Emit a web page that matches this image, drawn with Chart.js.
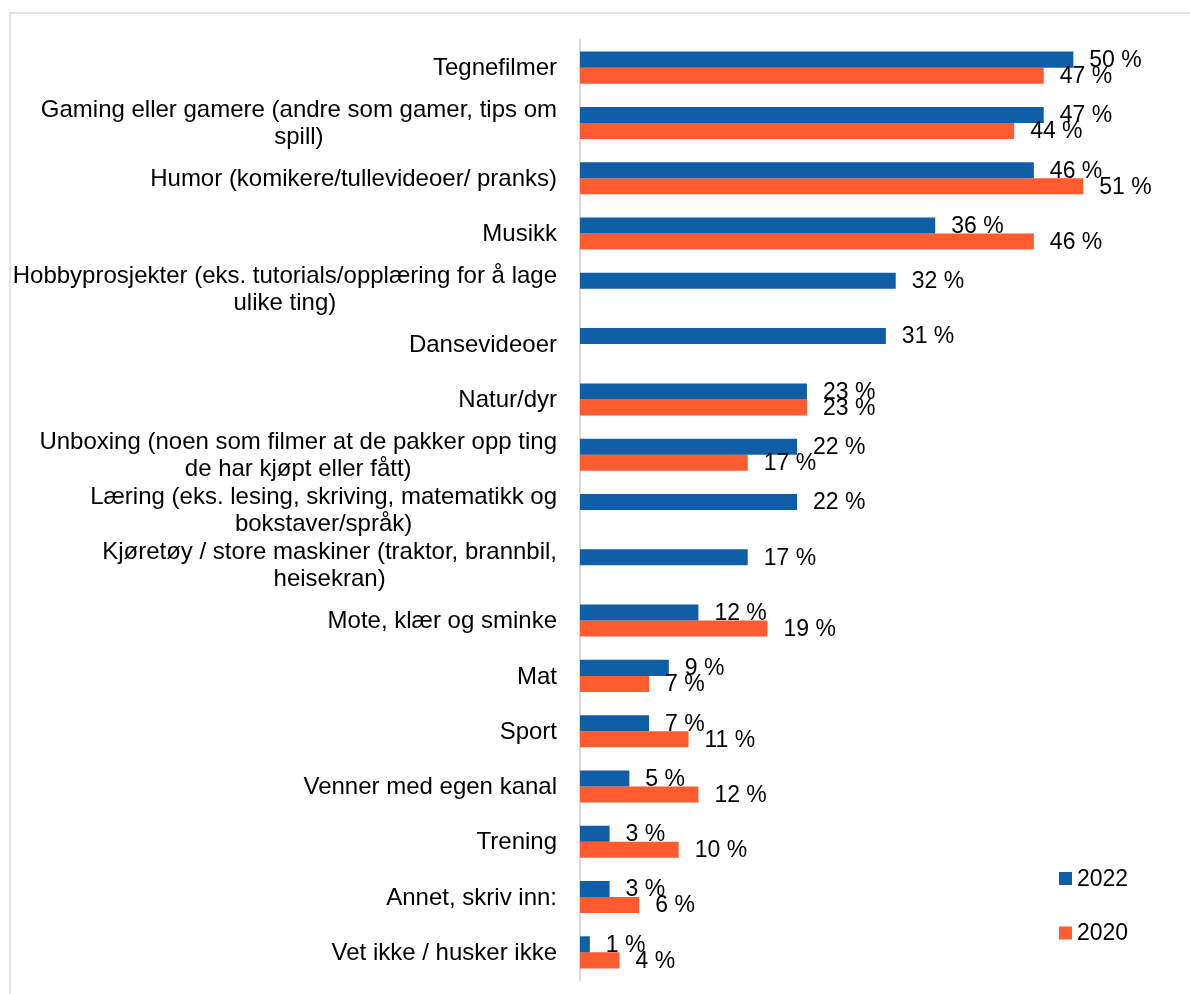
<!DOCTYPE html>
<html>
<head>
<meta charset="utf-8">
<script src="https://cdn.jsdelivr.net/npm/chart.js@4.4.1/dist/chart.umd.min.js"></script>
<style>
  body { margin: 0; overflow: hidden; background: #fff; }
  #wrap { position: relative; width: 1190px; height: 994px; }
  #frame {
    position: absolute; left: 9px; top: 12px; width: 1200px; height: 1000px;
    border: 2px solid #e2e2e2; box-sizing: border-box;
  }
</style>
</head>
<body>
<div id="wrap">
  <div id="frame"></div>
  <canvas id="myChart"></canvas>
</div>
<script>
  const categories = [
    "Tegnefilmer",
    ["Gaming eller gamere (andre som gamer, tips om", "spill)"],
    "Humor (komikere/tullevideoer/ pranks)",
    "Musikk",
    ["Hobbyprosjekter (eks. tutorials/opplæring for å lage", "ulike ting)"],
    "Dansevideoer",
    "Natur/dyr",
    ["Unboxing (noen som filmer at de pakker opp ting", "de har kjøpt eller fått)"],
    ["Læring (eks. lesing, skriving, matematikk og", "bokstaver/språk)"],
    ["Kjøretøy / store maskiner (traktor, brannbil,", "heisekran)"],
    "Mote, klær og sminke",
    "Mat",
    "Sport",
    "Venner med egen kanal",
    "Trening",
    "Annet, skriv inn:",
    "Vet ikke / husker ikke",
  ];

  const values2022 = [50, 47, 46, 36, 32, 31, 23, 22, 22, 17, 12, 9, 7, 5, 3, 3, 1];
  const values2020 = [47, 44, 51, 46, null, null, 23, 17, null, null, 19, 7, 11, 12, 10, 6, 4];

  const LABEL_FONT = "24px 'Liberation Sans', Arial, sans-serif";
  const VALUE_FONT = "23px 'Liberation Sans', Arial, sans-serif";

  const drawText = {
    id: "drawText",
    afterDraw(chart) {
      const c = chart.ctx;
      const y = chart.scales.y;
      c.save();
      c.fillStyle = "#000";
      c.textBaseline = "middle";

      // category labels: block right-aligned, lines centred
      c.font = LABEL_FONT;
      c.textAlign = "center";
      categories.forEach((lab, i) => {
        const lines = Array.isArray(lab) ? lab : [lab];
        const w = Math.max(...lines.map((l) => c.measureText(l).width));
        const cx = y.right - 23 - w / 2;
        const cy = y.getPixelForValue(i);
        lines.forEach((l, k) => {
          c.fillText(l, cx, cy + (k - (lines.length - 1) / 2) * 27 + 1);
        });
      });

      // value labels
      c.font = VALUE_FONT;
      c.textAlign = "left";
      chart.data.datasets.forEach((ds, d) => {
        chart.getDatasetMeta(d).data.forEach((bar, i) => {
          const v = ds.data[i];
          if (v === null) return;
          c.fillText(v + " %", bar.x + 16, bar.y + 1);
        });
      });

      // legend
      chart.data.datasets.forEach((ds, d) => {
        const ly = 878.5 + d * 54.5;
        c.fillStyle = ds.backgroundColor;
        c.fillRect(1059, ly - 6.5, 13, 13);
        c.fillStyle = "#000";
        c.fillText(ds.label, 1077, ly + 1);
      });
      c.restore();
    },
  };

  const ctx = document.getElementById("myChart");

  const chart = new Chart(ctx, {
    type: "bar",
    data: {
      labels: categories,
      datasets: [
        {
          label: "2022",
          data: values2022,
          backgroundColor: "#0F5EA6",
          borderWidth: 0,
          barPercentage: 1,
          categoryPercentage: 0.58,
        },
        {
          label: "2020",
          data: values2020,
          backgroundColor: "#FF5B31",
          borderWidth: 0,
          barPercentage: 1,
          categoryPercentage: 0.58,
        },
      ],
    },
    options: {
      indexAxis: "y",
      responsive: true,
      maintainAspectRatio: false,
      animation: false,
      layout: {
        padding: { top: 40, bottom: 14, left: 0, right: 18 },
      },
      scales: {
        x: {
          display: false,
          min: 0,
          max: 60,
        },
        y: {
          grid: { display: false },
          border: { display: true, color: "#d9d9d9", width: 2 },
          ticks: { display: false },
          afterFit(scale) {
            scale.width = 580;
          },
        },
      },
      plugins: {
        legend: { display: false },
        tooltip: { enabled: false },
      },
    },
    plugins: [drawText],
  });
</script>
</body>
</html>
